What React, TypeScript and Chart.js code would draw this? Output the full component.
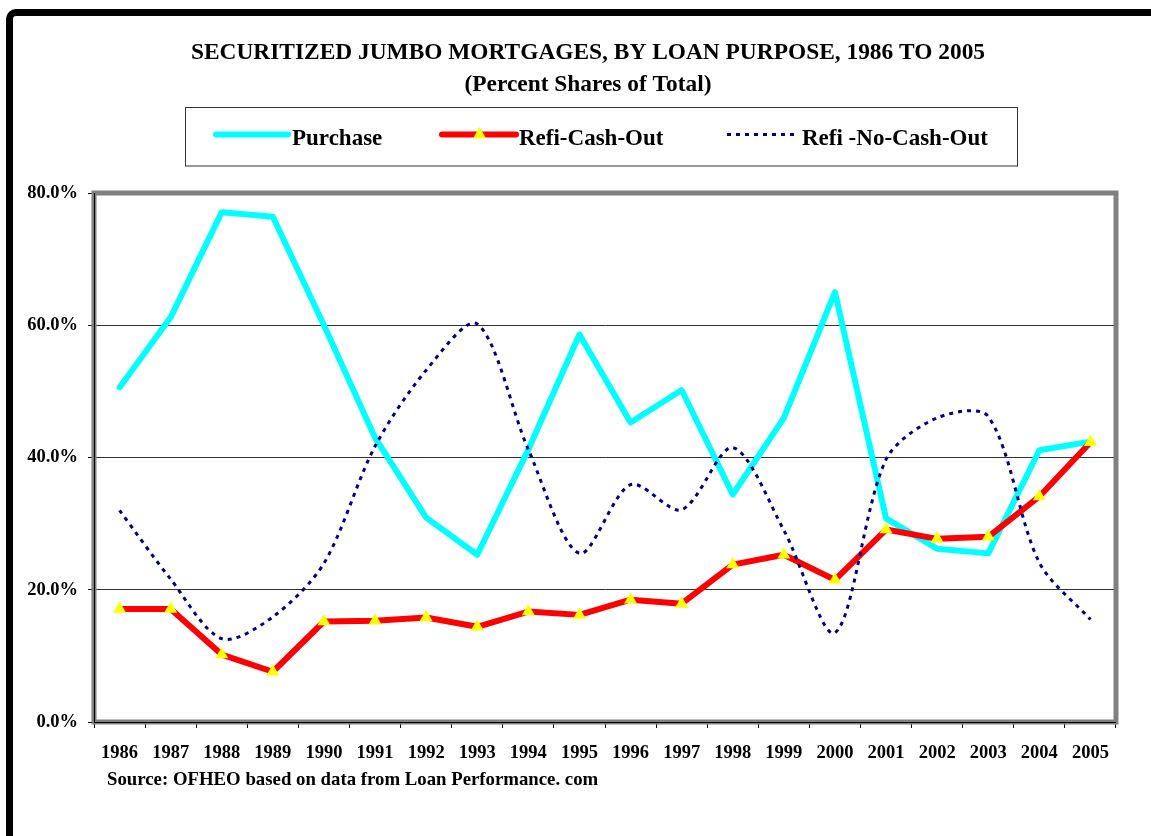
import React, { useEffect, useRef } from "react";
import { Chart, registerables } from "chart.js";

Chart.register(...registerables);

const years = ["1986", "1987", "1988", "1989", "1990", "1991", "1992", "1993", "1994", "1995", "1996", "1997", "1998", "1999", "2000", "2001", "2002", "2003", "2004", "2005"];
const purchase = [50.6, 61.2, 77.1, 76.4, 60.0, 43.0, 30.9, 25.3, 41.2, 58.6, 45.3, 50.2, 34.4, 46.0, 65.0, 30.8, 26.2, 25.5, 41.1, 42.4];
const refiCashOut = [17.1, 17.1, 10.2, 7.6, 15.2, 15.3, 15.8, 14.4, 16.7, 16.2, 18.5, 17.9, 23.8, 25.3, 21.5, 29.1, 27.7, 28.0, 34.1, 42.3];
const refiNoCashOut = [32.0, 21.6, 12.6, 15.9, 24.0, 41.7, 53.2, 60.2, 41.2, 25.5, 35.9, 32.1, 41.5, 29.0, 13.5, 39.7, 46.0, 46.2, 24.1, 15.5];
const seriesNames = ["Purchase", "Refi-Cash-Out", "Refi -No-Cash-Out"];
const titleLines = ["SECURITIZED JUMBO MORTGAGES, BY LOAN PURPOSE, 1986 TO 2005", "(Percent Shares of Total)"];
const sourceText = "Source: OFHEO based on data from Loan Performance. com";
const yTicks = [0, 20, 40, 60, 80];

const FONT = "'Liberation Serif', 'Times New Roman', serif";

const decorPlugin = {
  id: "decor",
  beforeDatasetsDraw(chart: any) {
    const { ctx, chartArea } = chart;
    ctx.save();
    ctx.strokeStyle = "#808080";
    ctx.lineWidth = 5;
    ctx.strokeRect(chartArea.left, chartArea.top, chartArea.right - chartArea.left, chartArea.bottom - chartArea.top);
    ctx.strokeStyle = "#000";
    ctx.lineWidth = 1;
    ctx.beginPath();
    ctx.moveTo(chartArea.left + 0.5, chartArea.top);
    ctx.lineTo(chartArea.left + 0.5, chartArea.bottom);
    ctx.moveTo(chartArea.left, chartArea.bottom + 0.5);
    ctx.lineTo(chartArea.right, chartArea.bottom + 0.5);
    ctx.stroke();
    ctx.restore();
  },
  afterDraw(chart: any) {
    const { ctx } = chart;
    ctx.save();
    ctx.fillStyle = "#000";
    ctx.textAlign = "center";
    ctx.textBaseline = "alphabetic";
    ctx.font = `bold 23.4px ${FONT}`;
    ctx.fillText(titleLines[0], 588, 59);
    ctx.fillText(titleLines[1], 588, 91);

    // legend box
    ctx.strokeStyle = "#333";
    ctx.lineWidth = 1;
    ctx.strokeRect(185.5, 107.5, 832, 58.5);

    const items = [
      { x0: 216, x1: 288, tx: 292 },
      { x0: 442, x1: 516, tx: 519 },
      { x0: 727, x1: 795, tx: 802 },
    ];
    const ly = 134.5;
    chart.data.datasets.forEach((ds: any, i: number) => {
      const it = items[i];
      ctx.save();
      ctx.strokeStyle = ds.borderColor;
      ctx.lineWidth = ds.borderWidth;
      ctx.lineCap = ds.borderDash && ds.borderDash.length ? "butt" : "round";
      ctx.setLineDash(ds.borderDash || []);
      ctx.beginPath();
      ctx.moveTo(it.x0, ly);
      ctx.lineTo(it.x1, ly);
      ctx.stroke();
      ctx.restore();
      if (ds.pointRadius > 0) {
        ctx.save();
        ctx.fillStyle = ds.pointBackgroundColor;
        const r = ds.pointRadius;
        const cx = (it.x0 + it.x1) / 2 + 0.5;
        const h = 1.5 * r;
        const w = r * Math.sqrt(3);
        ctx.beginPath();
        ctx.moveTo(cx, ly - r);
        ctx.lineTo(cx + w / 2, ly - r + h);
        ctx.lineTo(cx - w / 2, ly - r + h);
        ctx.closePath();
        ctx.fill();
        ctx.restore();
      }
      ctx.textAlign = "left";
      ctx.fillStyle = "#000";
      ctx.font = `bold 23px ${FONT}`;
      ctx.fillText(ds.label, it.tx, 145);
    });

    ctx.textAlign = "left";
    ctx.font = `bold 18.8px ${FONT}`;
    ctx.fillText(sourceText, 107, 785);
    ctx.restore();
  },
};

export default function App() {
  const ref = useRef<HTMLCanvasElement | null>(null);

  useEffect(() => {
    if (!ref.current) return;
    const chart = new Chart(ref.current, {
      type: "line",
      data: {
        labels: years,
        datasets: [
          {
            label: seriesNames[0],
            data: purchase,
            borderColor: "#00FFFF",
            backgroundColor: "#00FFFF",
            borderWidth: 6,
            pointRadius: 0,
            pointHoverRadius: 0,
            tension: 0,
            borderCapStyle: "round",
            borderJoinStyle: "round",
            order: 3,
          },
          {
            label: seriesNames[1],
            data: refiCashOut,
            borderColor: "#FF0000",
            backgroundColor: "#FF0000",
            borderWidth: 6,
            pointStyle: "triangle",
            pointRadius: 7.5,
            pointBackgroundColor: "#FFFF00",
            pointBorderWidth: 0,
            pointBorderColor: "#FFFF00",
            tension: 0,
            borderJoinStyle: "round",
            order: 2,
          },
          {
            label: seriesNames[2],
            data: refiNoCashOut,
            borderColor: "#000080",
            backgroundColor: "#000080",
            borderWidth: 3,
            borderDash: [4, 5],
            pointRadius: 0,
            pointHoverRadius: 0,
            tension: 0.3,
            order: 1,
          },
        ] as any,
      },
      options: {
        responsive: false,
        animation: false,
        devicePixelRatio: 1,
        events: [],
        layout: { padding: { top: 193, right: 35, left: 0, bottom: 0 } },
        plugins: {
          legend: { display: false },
          title: { display: false },
          tooltip: { enabled: false },
        },
        scales: {
          x: {
            type: "category",
            offset: true,
            grid: {
              offset: true,
              drawOnChartArea: false,
              drawTicks: true,
              tickLength: 6,
              color: "#000",
              tickColor: "#000",
            },
            border: { display: true, color: "#000", width: 1 },
            ticks: {
              color: "#000",
              font: { family: FONT, size: 18.5, weight: "bold" },
              padding: 14,
              maxRotation: 0,
              autoSkip: false,
            },
            afterFit(scale: any) {
              scale.height = 114;
            },
          },
          y: {
            min: 0,
            max: 80,
            afterBuildTicks(scale: any) {
              scale.ticks = yTicks.map((v) => ({ value: v }));
            },
            grid: {
              color: "#333",
              tickColor: "#000",
              tickLength: 6,
              lineWidth: 1,
            },
            border: { display: true, color: "#000", width: 1 },
            ticks: {
              color: "#000",
              font: { family: FONT, size: 18.5, weight: "bold" },
              padding: 10,
              callback: (v: any) => Number(v).toFixed(1) + "%",
            },
            afterFit(scale: any) {
              scale.width = 94;
            },
          },
        },
      } as any,
      plugins: [decorPlugin],
    });
    return () => chart.destroy();
  }, []);

  return (
    <div
      style={{
        position: "fixed",
        left: 0,
        top: 0,
        width: 1151,
        height: 836,
        overflow: "hidden",
        background: "#fff",
      }}
    >
      <div
        style={{
          position: "absolute",
          left: 6,
          top: 9,
          width: 1400,
          height: 1200,
          border: "7px solid #000",
          borderRadius: 10,
        }}
      />
      <canvas
        ref={ref}
        width={1151}
        height={836}
        style={{ position: "absolute", left: 0, top: 0, width: 1151, height: 836 }}
      />
    </div>
  );
}
